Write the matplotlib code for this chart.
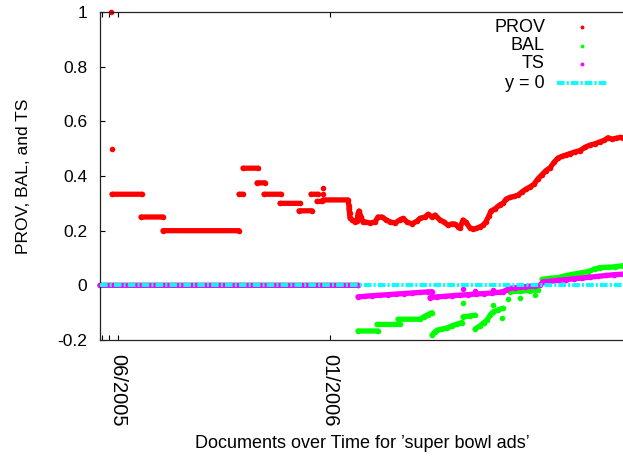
import numpy as np
import matplotlib
matplotlib.use("Agg")
import matplotlib.pyplot as plt

nan = np.nan

# ---- data (x = document index along the time axis) ----
tick_pos = [2, 9, 18, 230]
tick_labels = ["", "", "06/2005", "01/2006"]
ytick_vals = [-0.2, 0, 0.2, 0.4, 0.6, 0.8, 1]
ytick_labels = ["-0.2", "0", "0.2", "0.4", "0.6", "0.8", "1"]

prov_x = [10.7, nan, 12, nan, 12, 42, nan, 41, 63, nan, 63, 139, nan, 139, 143, nan,
          143, 158, nan, 157, 165, nan, 164, 181, nan, 180, 200, nan, 199, 212, nan,
          211, 218, nan, 217, 222, nan, 223, nan, 223, nan,
          223, 248, 249, 249, 249.5, 250, 252, 255, 257, 258, 259, 261, 263, 265, 270,
          275, 278, 282, 286, 290, 295, 300, 303, 307, 312, 317, 320, 325, 328, 332,
          335, 340, 344, 348, 352, 355, 358, 360, 363, 366, 370, 373, 376, 380, 383,
          386, 389, 391, 395, 400, 403, 406, 410, 414, 418, 422, 426, 430, 434, 438,
          442, 446, 450, 454, 458, 462, 466, 470, 475, 480, 485, 490, 495, 500, 504,
          508, 512, 516, 520, 523]
prov_y = [1.0, nan, 0.5, nan, 0.3333, 0.3333, nan, 0.25, 0.25, nan, 0.2, 0.2, nan,
          0.3333, 0.3333, nan, 0.4286, 0.4286, nan, 0.375, 0.375, nan, 0.3333, 0.3333,
          nan, 0.30, 0.30, nan, 0.2727, 0.2727, nan, 0.3333, 0.3333, nan, 0.307, 0.307,
          nan, 0.357, nan, 0.3333, nan,
          0.3125, 0.3125, 0.29, 0.28, 0.265, 0.246, 0.24, 0.232, 0.235, 0.262, 0.272,
          0.25, 0.232, 0.232, 0.228, 0.232, 0.25, 0.25, 0.24, 0.232, 0.228, 0.24, 0.245,
          0.232, 0.225, 0.235, 0.245, 0.25, 0.26, 0.25, 0.257, 0.239, 0.232, 0.22,
          0.225, 0.224, 0.215, 0.21, 0.239, 0.23, 0.21, 0.206, 0.208, 0.214, 0.22,
          0.233, 0.255, 0.272, 0.28, 0.295, 0.3, 0.315, 0.322, 0.325, 0.33, 0.342,
          0.352, 0.36, 0.37, 0.39, 0.405, 0.42, 0.43, 0.45, 0.466, 0.472, 0.477,
          0.482, 0.488, 0.493, 0.505, 0.513, 0.518, 0.525, 0.53, 0.54, 0.535, 0.538,
          0.541, 0.54]

bal_x = [0, 258, nan, 258, 278, nan, 277, 300, nan, 298, 320, 324, 328, 332, nan,
         332, 335, 337, 342, 347, 352, 357, 362, nan, 363, 370, 375, nan, 363, nan,
         375, 380, 384, 387, 390, 393, 398, 403, nan, 402, nan, 393, nan, 408, nan,
         410, 420, 430, 438, nan, 420, nan, 435, nan,
         442, 450, 458, 465, 472, 480, 488, 495, 500, 508, 515, 523]
bal_y = [0, 0, nan, -0.167, -0.167, nan, -0.143, -0.143, nan, -0.124, -0.124, -0.115,
         -0.107, -0.100, nan, -0.182, -0.17, -0.164, -0.16, -0.156, -0.148, -0.142,
         -0.136, nan, -0.115, -0.112, -0.109, nan, -0.064, nan, -0.16, -0.148, -0.136,
         -0.127, -0.11, -0.097, -0.09, -0.084, nan, -0.12, nan, -0.072, nan, -0.05,
         nan, -0.023, -0.021, -0.019, -0.017, nan, -0.045, nan, -0.036, nan,
         0.022, 0.026, 0.028, 0.035, 0.04, 0.045, 0.05, 0.06, 0.065, 0.066, 0.068, 0.072]

ts_x = [0, 258, nan, 258, 265, 272, 280, 288, 296, 304, 312, 320, 328, 332, nan,
        330, 337, 345, 352, 360, 368, 376, 384, 392, 400, 403, 406, 410, 415, 420,
        425, 430, 435, 440, 443, 450, 458, 466, 474, 482, 490, 498, 506, 514, 523,
        nan, 363, nan, 375, nan, 393]
ts_y = [0, 0, nan, -0.042, -0.040, -0.038, -0.036, -0.034, -0.032, -0.030, -0.028,
        -0.026, -0.024, -0.023, nan, -0.045, -0.042, -0.040, -0.038, -0.036, -0.034,
        -0.032, -0.030, -0.028, -0.025, -0.023, -0.018, -0.011, -0.009, -0.007,
        -0.005, -0.003, -0.002, 0.0, 0.013, 0.015, 0.018, 0.021, 0.024, 0.027, 0.030,
        0.033, 0.036, 0.039, 0.041, nan, -0.014, nan, -0.02, nan, -0.018]

series_names = ["PROV", "BAL", "TS", "y = 0"]
series_colors = ["#ff0000", "#00ff00", "#ff00ff", "#00ffff"]

# ---- figure ----
plt.rcParams["font.family"] = ["Liberation Sans", "DejaVu Sans"]
plt.rcParams["lines.scale_dashes"] = False
fig = plt.figure(figsize=(6.23, 4.58), dpi=100)
ax = fig.add_axes([100 / 623, 1 - 340 / 458, 525 / 623, 328 / 458])

lw = 3.8
for xs, ys, c in [(prov_x, prov_y, series_colors[0]),
                  (bal_x, bal_y, series_colors[1]),
                  (ts_x, ts_y, series_colors[2])]:
    ax.plot(xs, ys, color=c, lw=lw, marker="o", ms=4.0, mew=0,
            solid_capstyle="round", solid_joinstyle="round", clip_on=False, zorder=2)

zero_dash = (5.5, 1.5, 1.5, 1.5)
ax.axhline(0, color=series_colors[3], lw=2.8, dashes=zero_dash, zorder=3)

ax.set_xlim(0, 525)
ax.set_ylim(-0.2, 1)
ax.set_xticks(tick_pos)
ax.set_xticklabels(tick_labels, rotation=270, fontsize=14.5)
ax.set_yticks(ytick_vals)
ax.set_yticklabels(ytick_labels, fontsize=12.5)
ax.tick_params(axis="x", direction="in", length=3.6, width=0.8, pad=10, top=True)
ax.tick_params(axis="y", direction="in", length=3.6, width=0.8, pad=9, right=False)
for s in ax.spines.values():
    s.set_linewidth(0.9)
    s.set_color("#222222")
ax.spines["right"].set_visible(False)

ax.set_ylabel("PROV, BAL, and TS", fontsize=12.5, labelpad=19)
ax.set_xlabel("Documents over Time for \u2019super bowl ads\u2019", fontsize=13)
ax.xaxis.set_label_coords(0.5, (340 - 443) / 328)
ax.xaxis.label.set_va("center")

# ---- key (gnuplot style, right aligned text) ----
rows_py = [27, 46, 64, 83]
for i, name in enumerate(series_names):
    yf = (340 - rows_py[i]) / 328
    ax.text((545 - 100) / 525, yf, name, transform=ax.transAxes, ha="right",
            va="center", fontsize=13)
    if i < 3:
        ax.plot([(582 - 100) / 525], [yf], transform=ax.transAxes, marker="o",
                ms=2.8, mew=0, color=series_colors[i], clip_on=False)
    else:
        ax.plot([(557 - 100) / 525, (607 - 100) / 525], [yf, yf],
                transform=ax.transAxes, color=series_colors[i], lw=2.8,
                dashes=zero_dash, clip_on=False)

fig.savefig("out.png", dpi=100)
